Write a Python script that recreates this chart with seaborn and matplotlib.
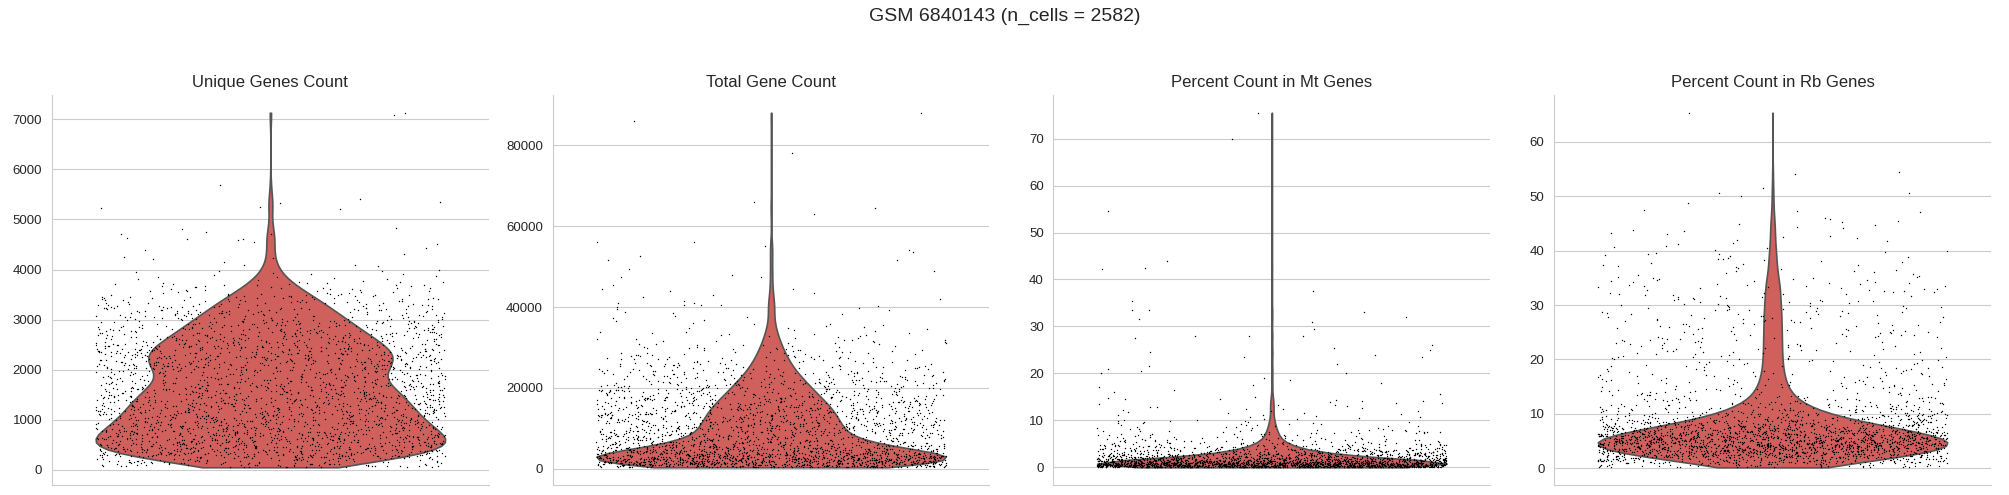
import numpy as np
import matplotlib
matplotlib.use("Agg")
import matplotlib.pyplot as plt
import seaborn as sns

genes_edges = [50, 250, 500, 750, 1000, 1250, 1500, 1750, 2000, 2250, 2500,
               2750, 3000, 3250, 3500, 3750, 4000]
genes_counts = [124, 282, 268, 234, 217, 203, 186, 150, 190, 186, 151,
                127, 99, 76, 42, 17]
genes_outliers = [7130, 7080, 5680, 5400, 5350, 5320, 5250, 5230, 5200, 4820,
                  4800, 4750, 4700, 4700, 4620, 4600, 4600, 4590, 4550, 4500,
                  4420, 4380, 4300, 4250, 4220, 4200, 4150, 4100, 4100, 4080]

total_edges = [400, 1000, 2000, 3000, 4000, 5000, 6000, 7000, 8000, 10000,
               12000, 14000, 16000, 18000, 20000, 22000, 24000, 26000, 28000,
               30000, 32000, 34000, 36000, 40000]
total_counts = [147, 307, 270, 209, 160, 123, 98, 86, 167, 157, 147, 137,
                118, 98, 83, 64, 49, 39, 29, 22, 15, 10, 12]
total_outliers = [88000, 86000, 78000, 66000, 64500, 63000, 56000, 56000,
                  55000, 54000, 53500, 52500, 51500, 51500, 49500, 49000,
                  48000, 47500, 47500, 45500, 44500, 44500, 44000, 43500,
                  43000, 42500, 42000, 41500, 41000, 41000, 40500, 40500,
                  40500, 40200, 40000]

mt_edges = [0, 0.5, 1, 1.5, 2, 3, 4, 5, 6, 8, 10, 15]
mt_counts = [700, 560, 350, 245, 280, 154, 84, 49, 56, 29, 35]
mt_outliers = [75.5, 70, 54.5, 44, 42.5, 42.3, 37.5, 35.5, 33.5, 33.5, 33,
               32, 31.5, 31, 29.5, 28, 28, 28, 27.5, 26, 25.3, 25, 24.5, 24,
               23.5, 23.5, 22, 21.5, 21, 20.5, 20, 20, 19, 18.5, 18, 17.5,
               17, 16.5, 16, 15.5]

rb_edges = [0.2, 1, 2, 3, 4, 5, 6, 7, 8, 9, 10, 11, 12, 13, 14, 16, 18, 20,
            25, 30, 35, 40, 45]
rb_counts = [64, 161, 242, 306, 324, 296, 242, 177, 129, 90, 64, 48, 35, 29,
             45, 35, 31, 72, 68, 58, 32, 19]
rb_outliers = [65.3, 54.5, 54, 51.5, 50.5, 50.5, 50, 48.7, 47.5, 47.3, 47,
               46, 45.8, 45.5, 45.3]

titles = ["Unique Genes Count", "Total Gene Count",
          "Percent Count in Mt Genes", "Percent Count in Rb Genes"]


def expand(edges, counts, extra):
    # spread each bin's cells evenly across the bin
    parts = []
    for lo, hi, n in zip(edges[:-1], edges[1:], counts):
        parts.append(lo + (hi - lo) * (np.arange(n) + 0.5) / n)
    parts.append(np.asarray(extra, dtype=float))
    return np.concatenate(parts)


metrics = [
    expand(genes_edges, genes_counts, genes_outliers),
    expand(total_edges, total_counts, total_outliers),
    expand(mt_edges, mt_counts, mt_outliers),
    expand(rb_edges, rb_counts, rb_outliers),
]

sns.set_style("whitegrid")
plt.rcParams["font.family"] = ["Liberation Sans", "DejaVu Sans"]
np.random.seed(0)

fig, axes = plt.subplots(1, 4, figsize=(20.09, 4.95), dpi=100)
fig.subplots_adjust(left=0.0259, right=0.991, bottom=0.0202, top=0.808,
                    wspace=0.1465)

for ax, title, vals in zip(axes, titles, metrics):
    sns.violinplot(y=vals, ax=ax, color="#cf605c", saturation=1,
                   density_norm="width", cut=0, inner=None,
                   linewidth=1.2, linecolor="#555555")
    sns.stripplot(y=vals, ax=ax, jitter=0.4, size=1, color="black")
    ax.set_title(title, fontsize=12)
    ax.set_xticks([])
    ax.set_ylabel("")
    ax.tick_params(axis="y", labelsize=9.5)
    sns.despine(ax=ax)

fig.suptitle("GSM 6840143 (n_cells = 2582)", fontsize=14, y=0.985)
fig.savefig("out.png", dpi=100)
